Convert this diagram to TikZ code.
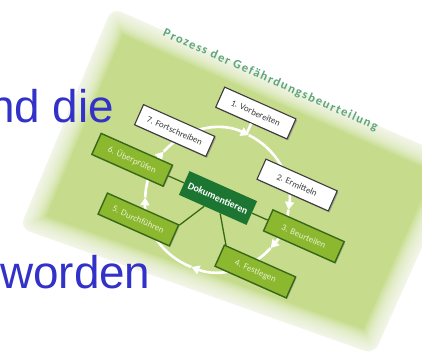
\documentclass[tikz,border=0pt]{standalone}
\usepackage{fontspec}
\setmainfont{Carlito}
\newfontfamily\slidefont{Liberation Sans}
\usetikzlibrary{arrows.meta, shadows}

\definecolor{cardgreen}{RGB}{198,220,140}
\definecolor{boxgreen}{RGB}{140,184,48}
\definecolor{boxgreenline}{RGB}{55,105,25}
\definecolor{boxtext}{RGB}{228,240,205}
\definecolor{dokgreen}{RGB}{28,118,50}
\definecolor{titlegreen}{RGB}{95,165,125}
\definecolor{boxgray}{RGB}{60,60,60}
\definecolor{slideblue}{RGB}{50,50,200}

\begin{document}
\begin{tikzpicture}[x=1bp, y=1bp,
    every node/.style={font=\fontsize{9}{10}\selectfont},
    whitebox/.style={draw=boxgray, line width=1.1bp, fill=white, text=boxgray,
      minimum width=78bp, minimum height=22bp, inner sep=1bp,
      drop shadow={shadow xshift=1.2bp, shadow yshift=-1.4bp, opacity=0.6}},
    greenbox/.style={draw=boxgreenline, line width=1.4bp, fill=boxgreen, text=boxtext,
      minimum width=78bp, minimum height=23bp, inner sep=1bp,
      drop shadow={shadow xshift=1bp, shadow yshift=-1.2bp, opacity=0.5}},
    dokbox/.style={fill=dokgreen, text=white, minimum width=74bp, minimum height=26bp,
      inner sep=1bp, font=\fontsize{10}{11}\selectfont\bfseries},
    docline/.style={draw=boxgreenline, line width=1.3bp},
    cyclearrow/.style={draw=white, line width=2.6bp, -{Triangle[length=8bp, width=9bp]}},
    slidetext/.style={anchor=base west, inner sep=0pt, text=slideblue,
      font=\slidefont\fontsize{46}{50}\selectfont}]
  \useasboundingbox (0,0) rectangle (422,-353);

  % card with soft edge
  \fill[cardgreen, rounded corners=10bp] (112,-8) -- (460,-162) -- (374,-354) -- (20,-228) -- cycle;
  \foreach \w in {2,4.5,...,40}
    \draw[white, opacity=0.1, line width=\w pt, line join=round, rounded corners=10bp]
      (112,-8) -- (460,-162) -- (374,-354) -- (20,-228) -- cycle;

  \begin{scope}[shift={(218,-198)}, rotate=-24, transform shape]
    \node[font=\fontsize{12.5}{13}\selectfont\bfseries\addfontfeatures{LetterSpace=12},
      text=titlegreen] (title) at (0,129) {Prozess der Gefährdungsbeurteilung};

    % cycle of white arrows
    \coordinate (hub) at (0,-2);
    \coordinate (top) at (0,70);
    \foreach \from/\to in {162/88, 88/16, 16/-18, -18/-87, -87/-158, -158/-198}
      \draw[cyclearrow] (hub) ++(\from:72) arc[start angle=\from, end angle=\to, radius=72];

    \node[whitebox] (s1) at (0,93) {1. Vorbereiten};
    \node[whitebox] (s2) at (67,44) {2. Ermitteln};
    \node[greenbox] (s3) at (94,0) {3. Beurteilen};
    \node[greenbox] (s4) at (64,-52) {4. Festlegen};
    \node[greenbox] (s5) at (-64,-52) {5. Durchführen};
    \node[greenbox] (s6) at (-94,0) {6. Überprüfen};
    \node[whitebox] (s7) at (-67,44) {7. Fortschreiben};
    \node[dokbox] (dok) at (0,0) {Dokumentieren};

    \draw[white, line width=2.6bp] (s1.south) -- (top);
    \draw[docline] (dok.west) -- (s6.east);
    \draw[docline] (dok.east) -- (s3.west);
    \draw[docline] (dok.235) -- (s5.16);
    \draw[docline] (dok.302) -- (s4.162);
  \end{scope}

  % slide text in front
  \node[slidetext] (nddie) at (-11,-122) {nd die};
  \node[slidetext] (worden) at (0,-288) {worden};
\end{tikzpicture}
\end{document}
